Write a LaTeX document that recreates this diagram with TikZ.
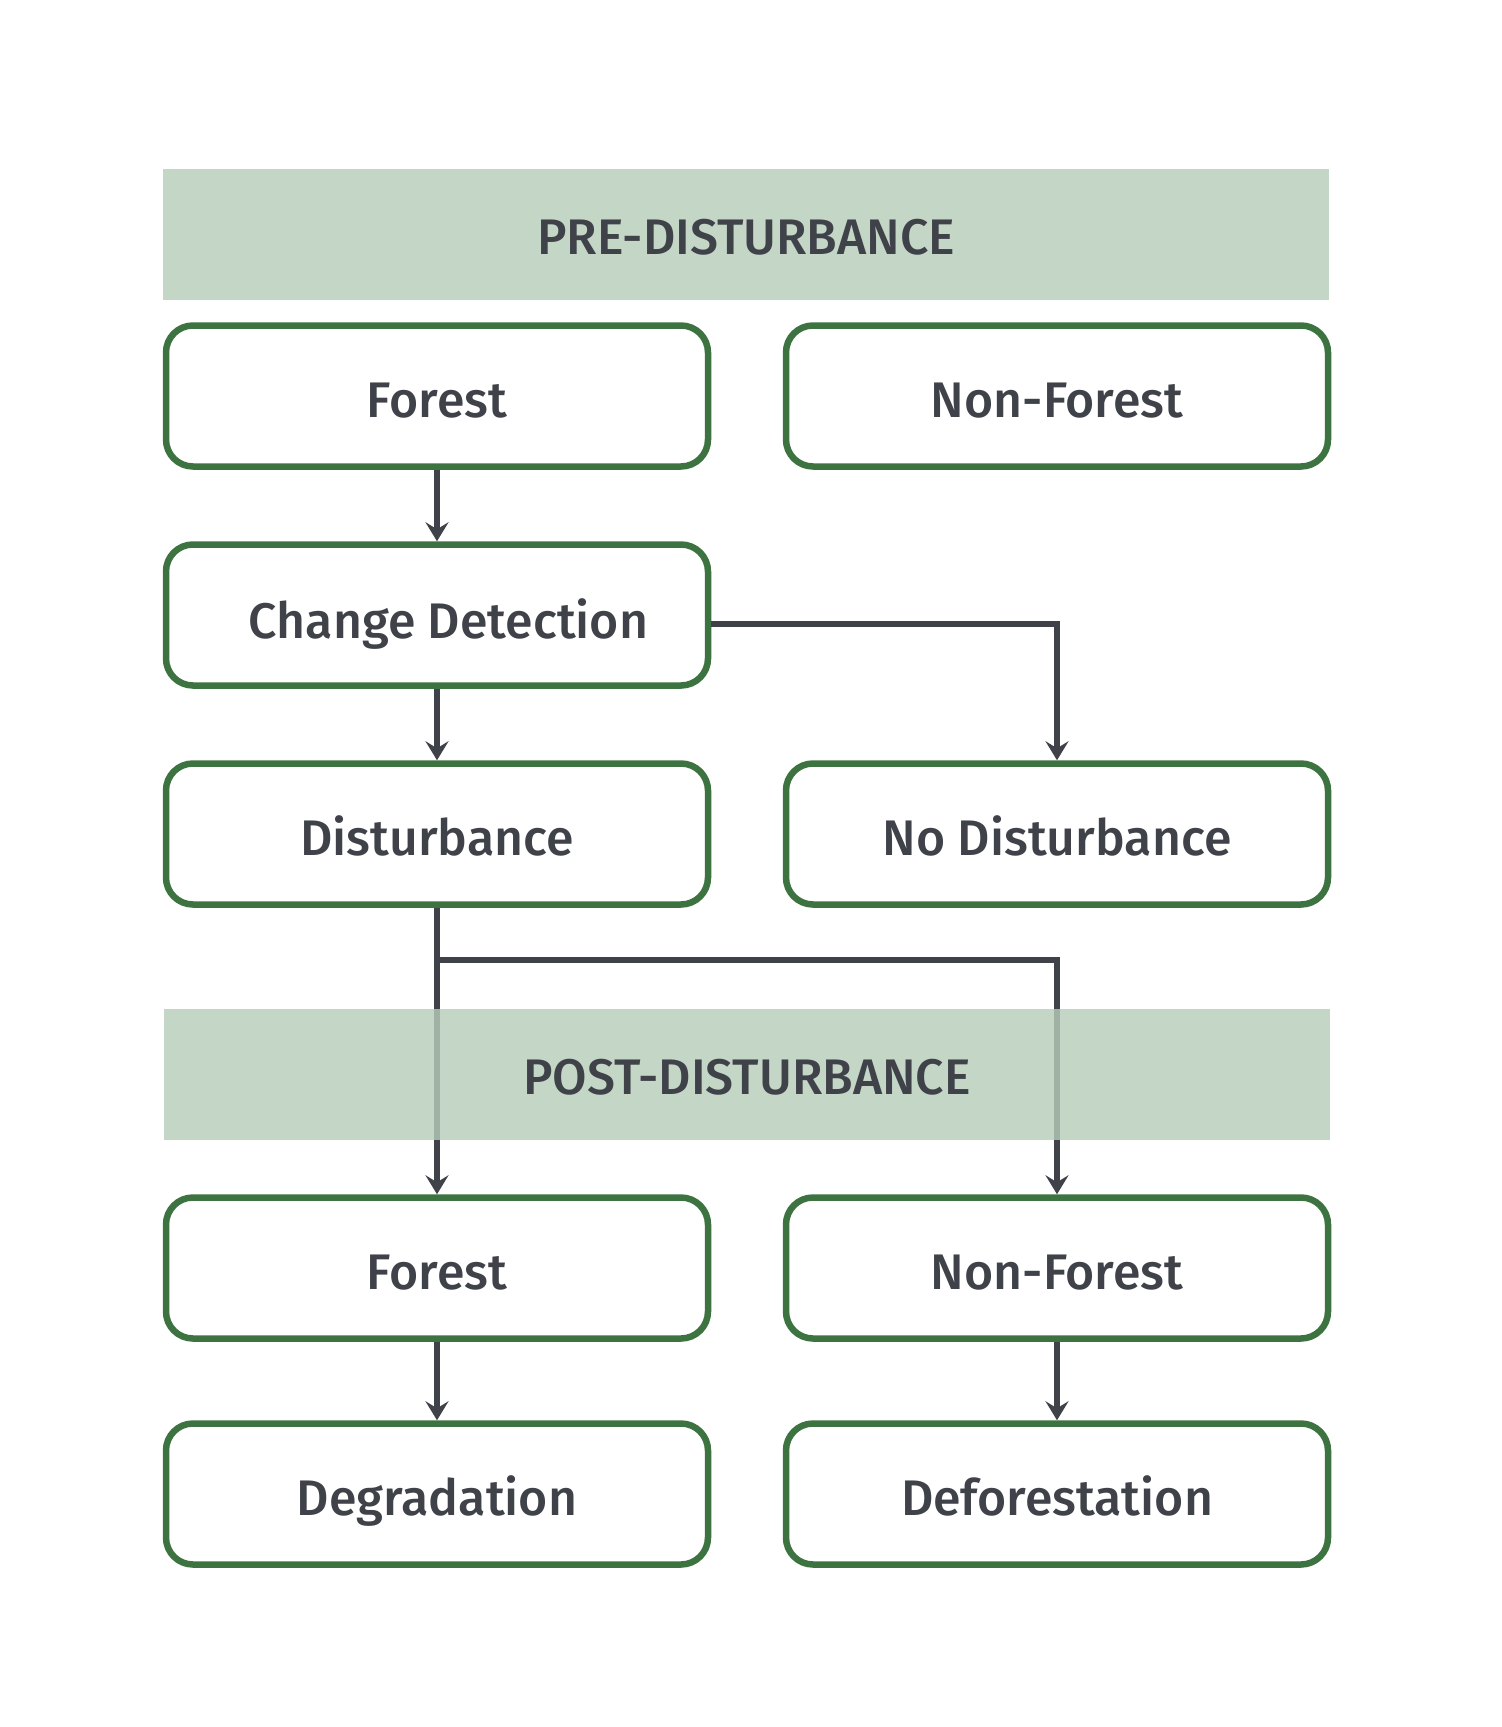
\documentclass[tikz,border=0pt]{standalone}
\usepackage{fontspec}
\setmainfont{Fira Sans}[UprightFont=* Medium]
\usetikzlibrary{arrows.meta}
\definecolor{txt}{HTML}{3F4249}
\definecolor{grn}{HTML}{3D7340}
\definecolor{band}{RGB}{182,204,185}
\tikzset{
  box/.style={draw=grn, line width=6.5pt, rounded corners=27pt, fill=white,
    minimum width=542pt, minimum height=141pt, text=txt, font=\fontsize{50}{54}\selectfont,
    text height=42pt, text depth=0pt},
  bandbox/.style={fill=band, fill opacity=0.81, text opacity=1, text=txt,
    minimum width=1166pt, minimum height=131pt, inner sep=0pt, font=\fontsize{50}{54}\selectfont,
    text height=40pt, text depth=0pt},
  conn/.style={draw=txt, line width=5.5pt, -{Stealth[length=19pt,width=23pt,inset=7pt]}},
}
\begin{document}
\begin{tikzpicture}[x=1pt,y=-1pt]
\useasboundingbox (0,0) rectangle (1502,1727);
\node[bandbox] (pre) at (746,234) {PRE-DISTURBANCE};
\node[box] (f1) at (437,396) {Forest};
\node[box] (nf1) at (1057,396) {Non-Forest};
\node[box, text height=46pt] (cd) at (437,615) {\hspace*{23pt}Change Detection};
\node[box] (dist) at (437,834) {Disturbance};
\node[box] (nodist) at (1057,834) {No Disturbance};
\node[box] (f2) at (437,1268) {Forest};
\node[box] (nf2) at (1057,1268) {Non-Forest};
\node[box] (deg) at (437,1494) {Degradation};
\node[box] (def) at (1057,1494) {Deforestation};
\coordinate (j) at (437,960);
\draw[conn] (f1.south) -- (cd.north);
\draw[conn] (cd.south) -- (dist.north);
\draw[conn] ([yshift=-9pt]cd.east) -| (nodist.north);
\draw[conn] (dist.south) -- (f2.north);
\draw[conn] (j) -| (nf2.north);
\draw[conn] (f2.south) -- (deg.north);
\draw[conn] (nf2.south) -- (def.north);
\node[bandbox] (post) at (747,1074) {POST-DISTURBANCE};
\end{tikzpicture}
\end{document}
